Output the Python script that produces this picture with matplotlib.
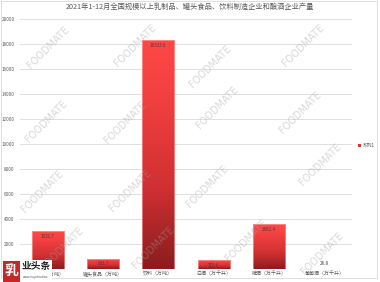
import matplotlib
matplotlib.use("Agg")
import matplotlib.pyplot as plt
import numpy as np
from matplotlib.colors import LinearSegmentedColormap
from matplotlib.patches import Rectangle

plt.rcParams['font.family'] = ['Noto Sans CJK SC', 'DejaVu Sans']

title = "2021年1-12月全国规模以上乳制品、罐头食品、饮料制造企业和酿酒企业产量"
categories = ["乳制品（万吨）", "罐头食品（万吨）", "饮料（万吨）", "白酒（万千升）", "啤酒（万千升）", "葡萄酒（万千升）"]
values = [3031.7, 831.7, 18333.8, 715.6, 3562.4, 26.8]
yticks = [0, 2000, 4000, 6000, 8000, 10000, 12000, 14000, 16000, 18000, 20000]
series_name = "系列1"

W, H = 380, 282
fig = plt.figure(figsize=(W / 100, H / 100), dpi=100)
fig.patch.set_facecolor('white')

def fx(px):
    return px / W

def fy(py):
    return 1 - py / H

ax = fig.add_axes([fx(20), fy(269), fx(352) - fx(20), fy(19) - fy(269)])
ax.set_xlim(-0.5, len(categories) - 0.5)
ax.set_ylim(0, 20000)
for s in ax.spines.values():
    s.set_visible(False)
ax.set_yticks(yticks)
# the "0" label is hidden under the logo in the reference
ax.set_yticklabels(['' if v == 0 else str(v) for v in yticks], fontsize=3.3, color='#595959')
ax.tick_params(axis='y', length=0, pad=4)
ax.set_xticks(range(len(categories)))
ax.set_xticklabels(categories, fontsize=3.6, color='#595959')
ax.tick_params(axis='x', length=0, pad=2)
ax.yaxis.grid(True, color='#d9d9d9', linewidth=0.6)
ax.set_axisbelow(True)

cmap = LinearSegmentedColormap.from_list(
    "g", [(0.0, "#8a1c1e"), (0.35, "#cf3032"), (0.75, "#f24040"), (1.0, "#ff4848")])
grad = np.linspace(0, 1, 256).reshape(-1, 1)
bw = 0.58
bars = ax.bar(range(len(categories)), values, width=bw, color='none',
              edgecolor='#ffb3b3', linewidth=0.4, zorder=3)
for i, (b, v) in enumerate(zip(bars, values)):
    x0 = b.get_x()
    im = ax.imshow(grad, cmap=cmap, extent=[x0, x0 + bw, 0, v], origin='lower',
                   aspect='auto', zorder=2)
    im.set_clip_path(b)
    if v > 500:
        ly = v - 420
    else:
        ly = v + 420
    ax.text(i, ly, f"{v:.1f}", ha='center', va='center', fontsize=3.3,
            color='#404040', zorder=5)
ax.set_xlim(-0.5, len(categories) - 0.5)
ax.set_ylim(0, 20000)

# title
fig.text(0.5, fy(7), title, ha='center', va='center', fontsize=5.2, color='#595959')

# legend
fig.patches.append(Rectangle((fx(358), fy(147)), fx(3), 3 / H, transform=fig.transFigure,
                             facecolor='#e03333', edgecolor='none'))
fig.text(fx(363), fy(145.5), series_name, ha='left', va='center', fontsize=3.4, color='#595959')

# chart border
fig.patches.append(Rectangle((fx(1), fy(278)), fx(376), (277) / H, transform=fig.transFigure,
                             facecolor='none', edgecolor='#d9d9d9', linewidth=0.6))

# watermarks
wm = [(48, 47), (135, 45), (210, 66), (303, 45),
      (46, 121), (125, 122), (217, 107), (300, 112),
      (42, 191), (130, 190), (207, 186), (320, 164),
      (62, 248), (153, 247), (246, 240), (322, 253)]
for (x, y) in wm:
    fig.text(fx(x), fy(y), "FOODMATE", rotation=45, ha='center', va='center',
             fontsize=7, color='#a0a0a0', alpha=0.4, family='DejaVu Sans', zorder=20)

# logo
fig.patches.append(Rectangle((fx(2), fy(282)), fx(50), 22 / H, transform=fig.transFigure,
                             facecolor='white', edgecolor='none', zorder=25))
fig.patches.append(Rectangle((fx(3), fy(282)), fx(17), 21 / H, transform=fig.transFigure,
                             facecolor='#c62828', edgecolor='none', zorder=26))
fig.text(fx(11.5), fy(271), "乳", ha='center', va='center', fontsize=10, color='white',
         weight='bold', zorder=27)
fig.text(fx(22), fy(266), "业头条", ha='left', va='center', fontsize=7, color='#222222',
         weight='bold', zorder=27)
fig.text(fx(23), fy(277), "www.ruyetoutiao", ha='left', va='center', fontsize=2.2,
         color='#555555', zorder=27, family='DejaVu Sans')

fig.savefig("out.png", dpi=100)
